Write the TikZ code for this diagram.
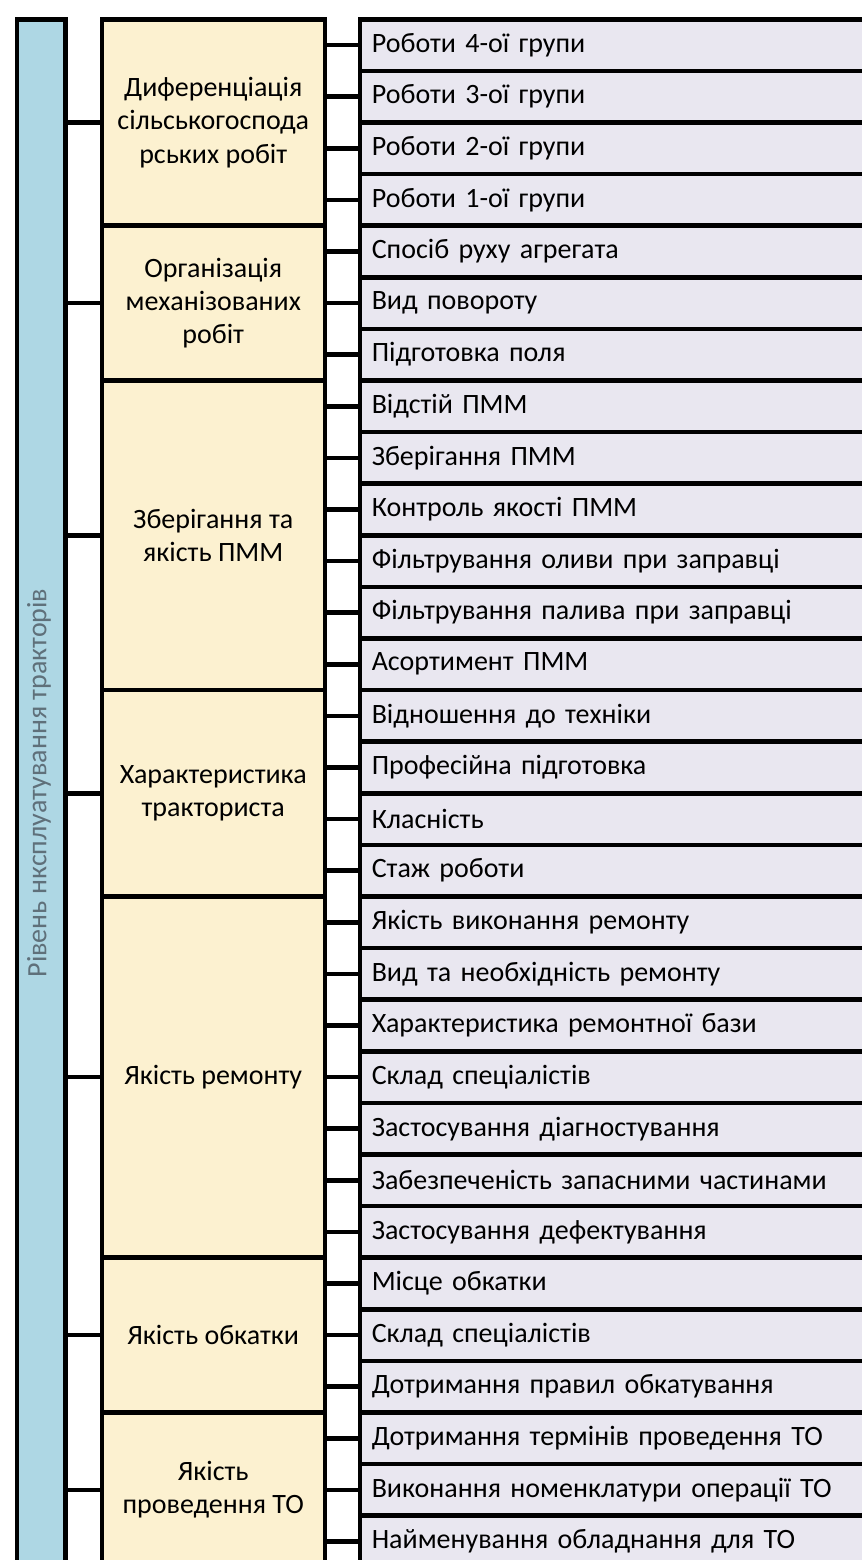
\documentclass[tikz,border=0pt]{standalone}
\usepackage{fontspec}
\setmainfont{Carlito}
\definecolor{barblue}{RGB}{174,215,228}
\definecolor{yel}{RGB}{252,241,208}
\definecolor{lav}{RGB}{233,231,240}
\definecolor{bartxt}{RGB}{95,112,122}
\tikzset{
  rowbox/.style={draw, line width=2.25pt, fill=lav, anchor=north west,
    minimum width=262pt, minimum height=25.8pt, text width=250pt,
    align=left, inner xsep=6pt, inner ysep=0pt,
    font=\fontsize{14pt}{16pt}\selectfont},
  ybox/.style={draw, line width=2.25pt, fill=yel, anchor=north west,
    minimum width=111.5pt, align=center, inner sep=0pt,
    font=\fontsize{14pt}{16.6pt}\selectfont},
  barbox/.style={draw, line width=2.25pt, fill=barblue, anchor=north west,
    minimum width=24.25pt, minimum height=790pt, inner sep=0pt},
  conn/.style={line width=2.25pt}
}
\begin{document}
\begin{tikzpicture}[x=0.5pt,y=-0.5pt]
\useasboundingbox (0,0) rectangle (862,1560);
\clip (0,0) rectangle (862,1560);
\fill[white] (0,0) rectangle (862,1560);
% left bar
\node[barbox] (bar) at (14.5,17) {};
\node[rotate=90, text=bartxt, font=\fontsize{14pt}{16pt}\selectfont] (bt) at (39,783) {Рівень нксплуатування тракторів};
% groups
\node[ybox, minimum height=103.2pt] (g1) at (99.5,17) {Диференціація\\сільськогоспода\\рських робіт};
\node[ybox, minimum height=77.4pt] (g2) at (99.5,223.4) {Організація\\механізованих\\робіт};
\node[ybox, minimum height=154.8pt] (g3) at (99.5,378.2) {Зберігання та\\якість ПММ};
\node[ybox, minimum height=103.2pt] (g4) at (99.5,687.8) {Характеристика\\тракториста};
\node[ybox, minimum height=180.6pt] (g5) at (99.5,894.2) {Якість ремонту};
\node[ybox, minimum height=77.4pt] (g6) at (99.5,1255.4) {Якість обкатки};
\node[ybox, minimum height=77.4pt] (g7) at (99.5,1410.2) {Якість\\проведення ТО};
% rows
\foreach \t [count=\i] in {Роботи 4-ої групи, Роботи 3-ої групи, Роботи 2-ої групи, Роботи 1-ої групи,
  Спосіб руху агрегата, Вид повороту, Підготовка поля,
  Відстій ПММ, Зберігання ПММ, Контроль якості ПММ, Фільтрування оливи при заправці, Фільтрування палива при заправці, Асортимент ПММ,
  Відношення до техніки, Професійна підготовка, Класність, Стаж роботи,
  Якість виконання ремонту, Вид та необхідність ремонту, Характеристика ремонтної бази, Склад спеціалістів, Застосування діагностування, Забезпеченість запасними частинами, Застосування дефектування,
  Місце обкатки, Склад спеціалістів, Дотримання правил обкатування,
  Дотримання термінів проведення ТО, Виконання номенклатури операції ТО, Найменування обладнання для ТО}
{
  \node[rowbox] (r\i) at (357.5,{17+(\i-1)*51.6}) {\t};
}
% connectors bar -> groups
\foreach \j in {1,...,7}{
  \draw[conn] (bar.east |- g\j.west) -- (g\j.west);
}
% connectors groups -> rows
\foreach \i/\j in {1/1,2/1,3/1,4/1,5/2,6/2,7/2,8/3,9/3,10/3,11/3,12/3,13/3,
  14/4,15/4,16/4,17/4,18/5,19/5,20/5,21/5,22/5,23/5,24/5,25/6,26/6,27/6,28/7,29/7,30/7}{
  \draw[conn] (g\j.east |- r\i.west) -- (r\i.west);
}
\end{tikzpicture}
\end{document}
